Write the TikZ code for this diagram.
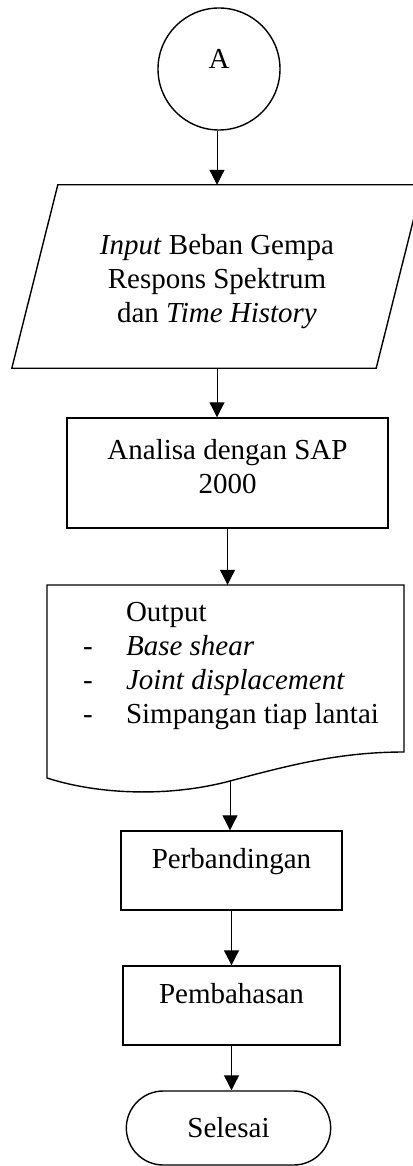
\documentclass[tikz,border=0pt]{standalone}
\usepackage{fontspec}
\setmainfont{Liberation Serif}
\usetikzlibrary{arrows.meta,shapes.misc}
\tikzset{
    garis/.style={line width=1.4pt},
    panah/.style={line width=1pt, -{Triangle[width=15pt,length=15pt]}},
    kotak/.style={garis, draw, rectangle, align=center},
    teksatas/.style={text height=20pt, text depth=24pt},
}
\begin{document}
\begin{tikzpicture}[x=1pt, y=-1pt, font=\fontsize{29}{34}\selectfont]
            \useasboundingbox (0,0) rectangle (412,1166);

            % Konektor A
            \node[garis, draw, circle, minimum size=122pt, text height=20pt, text depth=20pt] (conA) at (219,69) {A};

            % Input beban gempa
            \node[align=center, minimum width=364pt, minimum height=183pt, text height=97pt, text depth=6pt] (inp) at (217,276.5)
                {\textit{Input} Beban Gempa\\Respons Spektrum\\dan \textit{Time History}};
            \draw[garis] ([xshift=23pt]inp.north west) -- ([xshift=23pt]inp.north east)
                -- ([xshift=-23pt]inp.south east) -- ([xshift=-23pt]inp.south west) -- cycle;

            % Analisa
            \node[kotak, minimum width=321pt, minimum height=110pt, text height=40pt, text depth=0pt] (ana) at (227.5,473) {Analisa dengan SAP\\2000};

            % Output
            \node[minimum width=357pt, minimum height=162pt] (out) at (225.5,666)
                {\begin{tabular}{@{\hspace{11pt}}p{43pt}@{}l@{}}
                    & Output\\
                    - & \textit{Base shear}\\
                    - & \textit{Joint displacement}\\
                    - & Simpangan tiap lantai
                \end{tabular}};
            \draw[garis] (47,778) -- (47,585) -- (404,585) -- (404,752)
                .. controls (340,752) and (290,765) .. (230,781) coordinate (outB)
                .. controls (170,797) and (100,795) .. (47,778) -- cycle;

            % Perbandingan, pembahasan, selesai
            \node[kotak, teksatas, minimum width=221pt, minimum height=79pt] (per) at (231.5,870.5) {Perbandingan};
            \node[kotak, teksatas, minimum width=217pt, minimum height=79pt] (pem) at (231.5,1005.5) {Pembahasan};
            \node[garis, draw, rounded rectangle, minimum width=211pt, minimum height=74pt] (sel) at (228.5,1128) {Selesai};

            % Panah
            \draw[panah] (inp.north |- conA.south) -- (inp.north);
            \draw[panah] (inp.south) -- (inp.south |- ana.north);
            \draw[panah] (ana.south) -- (ana.south |- out.north);
            \draw[panah] (outB) -- (outB |- per.north);
            \draw[panah] (per.south) -- (pem.north);
            \draw[panah] (pem.south) -- (pem.south |- sel.north);
        \end{tikzpicture}
\end{document}
